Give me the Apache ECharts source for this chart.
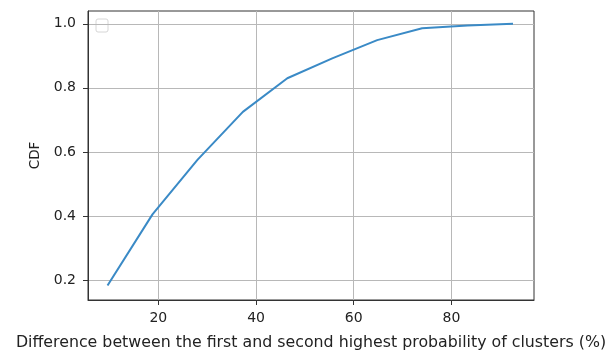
<!DOCTYPE html>
<html>
<head>
<meta charset="utf-8">
<script src="https://cdn.jsdelivr.net/npm/echarts@6/dist/echarts.min.js"></script>
<style>html,body{margin:0;padding:0;background:#fff}#c{width:608px;height:354px}</style>
</head>
<body>
<div id="c"></div>
<script>
const xValues = [9.6, 18.8, 28.0, 37.3, 46.4, 55.6, 64.8, 74.0, 83.3, 92.6];
const cdfValues = [0.183, 0.405, 0.575, 0.725, 0.830, 0.892, 0.949, 0.986, 0.995, 1.0];
const xTicks = [20, 40, 60, 80];
const yTicks = [0.2, 0.4, 0.6, 0.8, 1.0];
const xLabel = 'Difference between the first and second highest probability of clusters (%)';
const yLabel = 'CDF';

const font = 'DejaVu Sans';
const chart = echarts.init(document.getElementById('c'), null, {renderer: 'canvas'});
chart.setOption({
  animation: false,
  backgroundColor: '#fff',
  grid: {left: 88, right: 74, top: 11, bottom: 54, show: true, borderColor: '#333', borderWidth: 1, backgroundColor: 'transparent', outerBoundsMode: 'none', containLabel: false},
  xAxis: {
    type: 'value', min: 5.6, max: 96.9,
    name: xLabel, nameLocation: 'middle', nameGap: 35,
    nameTextStyle: {fontFamily: font, fontSize: 15.8, color: '#222'},
    axisLine: {show: true, lineStyle: {color: '#333', width: 1}},
    axisTick: {show: true, customValues: xTicks, length: 5, lineStyle: {color: '#333'}},
    axisLabel: {customValues: xTicks, fontFamily: font, fontSize: 14, color: '#222', margin: 11, formatter: v => String(v)},
    splitLine: {show: true, lineStyle: {color: '#b8b8b8', width: 1}}
  },
  yAxis: {
    type: 'value', min: 0.1375, max: 1.04,
    name: yLabel, nameLocation: 'middle', nameGap: 41, nameRotate: 90,
    nameTextStyle: {fontFamily: font, fontSize: 13.5, color: '#222'},
    axisLine: {show: true, lineStyle: {color: '#333', width: 1}},
    axisTick: {show: true, customValues: yTicks, length: 5, lineStyle: {color: '#333'}},
    axisLabel: {customValues: yTicks, fontFamily: font, fontSize: 14, color: '#222', margin: 12, formatter: v => v.toFixed(1)},
    splitLine: {show: true, lineStyle: {color: '#b8b8b8', width: 1}}
  },
  series: [{
    type: 'line',
    data: xValues.map((x, i) => [x, cdfValues[i]]),
    showSymbol: false,
    lineStyle: {color: '#3a8ac6', width: 2},
    itemStyle: {color: '#3a8ac6'}
  }],
  graphic: [{
    type: 'rect', shape: {x: 96, y: 19, width: 12, height: 13, r: 2},
    style: {fill: '#fff', stroke: '#d6d6d6', lineWidth: 1}
  }]
});
</script>
</body>
</html>
